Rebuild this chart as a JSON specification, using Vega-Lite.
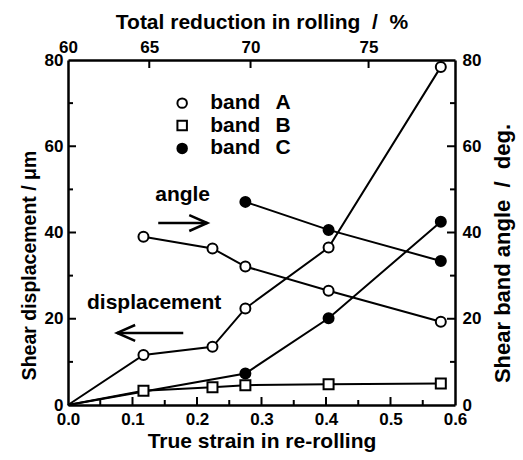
{
  "$schema": "https://vega.github.io/schema/vega-lite/v6.json",
  "width": 387,
  "height": 345,
  "autosize": "none",
  "padding": {"left": 68, "top": 60, "right": 68, "bottom": 55},
  "background": "white",
  "config": {
    "font": "Liberation Sans",
    "view": {"stroke": null},
    "axis": {
      "ticks": false,
      "grid": false,
      "domainColor": "black",
      "domainWidth": 2.5,
      "labelColor": "black",
      "labelFont": "Liberation Sans",
      "labelFontSize": 17,
      "labelFontWeight": "bold",
      "labelOverlap": false,
      "labelBound": false,
      "labelFlush": false,
      "titleColor": "black",
      "titleFont": "Liberation Sans",
      "titleFontSize": 21,
      "titleFontWeight": "bold"
    }
  },
  "datasets": {
    "disp": [
      {"band": "A", "x": 0, "y": 0},
      {"band": "A", "x": 0.117, "y": 11.6},
      {"band": "A", "x": 0.224, "y": 13.5},
      {"band": "A", "x": 0.275, "y": 22.4},
      {"band": "A", "x": 0.404, "y": 36.5},
      {"band": "A", "x": 0.578, "y": 78.4},
      {"band": "B", "x": 0, "y": 0},
      {"band": "B", "x": 0.117, "y": 3.3},
      {"band": "B", "x": 0.224, "y": 4.1},
      {"band": "B", "x": 0.275, "y": 4.6},
      {"band": "B", "x": 0.404, "y": 4.8},
      {"band": "B", "x": 0.578, "y": 5.0},
      {"band": "C", "x": 0, "y": 0},
      {"band": "C", "x": 0.275, "y": 7.3},
      {"band": "C", "x": 0.404, "y": 20.1},
      {"band": "C", "x": 0.578, "y": 42.5}
    ],
    "angle": [
      {"band": "A", "x": 0.117, "y": 39.0},
      {"band": "A", "x": 0.224, "y": 36.3},
      {"band": "A", "x": 0.275, "y": 32.1},
      {"band": "A", "x": 0.404, "y": 26.5},
      {"band": "A", "x": 0.578, "y": 19.3},
      {"band": "C", "x": 0.275, "y": 47.1},
      {"band": "C", "x": 0.404, "y": 40.6},
      {"band": "C", "x": 0.578, "y": 33.4}
    ],
    "legend": [
      {"band": "A", "x": 0.177, "y": 70.0},
      {"band": "B", "x": 0.177, "y": 64.8},
      {"band": "C", "x": 0.177, "y": 59.5}
    ],
    "notes": [
      {"x": 0.2206, "y": 70.0, "t": "band"},
      {"x": 0.3216, "y": 70.0, "t": "A"},
      {"x": 0.2206, "y": 64.8, "t": "band"},
      {"x": 0.3216, "y": 64.8, "t": "B"},
      {"x": 0.2206, "y": 59.5, "t": "band"},
      {"x": 0.3216, "y": 59.5, "t": "C"},
      {"x": 0.1352, "y": 48.7, "t": "angle"},
      {"x": 0.0295, "y": 23.65, "t": "displacement"}
    ],
    "arrows": [
      {"g": "r-shaft", "o": 1, "x": 0.1399, "y": 42.2},
      {"g": "r-shaft", "o": 2, "x": 0.2160, "y": 42.2},
      {"g": "r-head", "o": 1, "x": 0.1880, "y": 44.05},
      {"g": "r-head", "o": 2, "x": 0.2160, "y": 42.2},
      {"g": "r-head", "o": 3, "x": 0.1880, "y": 40.35},
      {"g": "l-shaft", "o": 1, "x": 0.0761, "y": 16.7},
      {"g": "l-shaft", "o": 2, "x": 0.1787, "y": 16.7},
      {"g": "l-head", "o": 1, "x": 0.1041, "y": 18.55},
      {"g": "l-head", "o": 2, "x": 0.0761, "y": 16.7},
      {"g": "l-head", "o": 3, "x": 0.1041, "y": 14.85}
    ],
    "ticks": [
      {"t": "b05", "x": 0.05, "y": 0}, {"t": "b05", "x": 0.05, "y": 1.16},
      {"t": "b10", "x": 0.1, "y": 0}, {"t": "b10", "x": 0.1, "y": 1.85},
      {"t": "b15", "x": 0.15, "y": 0}, {"t": "b15", "x": 0.15, "y": 1.16},
      {"t": "b20", "x": 0.2, "y": 0}, {"t": "b20", "x": 0.2, "y": 1.85},
      {"t": "b25", "x": 0.25, "y": 0}, {"t": "b25", "x": 0.25, "y": 1.16},
      {"t": "b30", "x": 0.3, "y": 0}, {"t": "b30", "x": 0.3, "y": 1.85},
      {"t": "b35", "x": 0.35, "y": 0}, {"t": "b35", "x": 0.35, "y": 1.16},
      {"t": "b40", "x": 0.4, "y": 0}, {"t": "b40", "x": 0.4, "y": 1.85},
      {"t": "b45", "x": 0.45, "y": 0}, {"t": "b45", "x": 0.45, "y": 1.16},
      {"t": "b50", "x": 0.5, "y": 0}, {"t": "b50", "x": 0.5, "y": 1.85},
      {"t": "b55", "x": 0.55, "y": 0}, {"t": "b55", "x": 0.55, "y": 1.16},
      {"t": "t65", "x": 0.126, "y": 80}, {"t": "t65", "x": 0.126, "y": 78.15},
      {"t": "t70", "x": 0.283, "y": 80}, {"t": "t70", "x": 0.283, "y": 78.15},
      {"t": "t75", "x": 0.466, "y": 80}, {"t": "t75", "x": 0.466, "y": 78.15},
      {"t": "l10", "x": 0, "y": 10}, {"t": "l10", "x": 0.0078, "y": 10},
      {"t": "l20", "x": 0, "y": 20}, {"t": "l20", "x": 0.0124, "y": 20},
      {"t": "l30", "x": 0, "y": 30}, {"t": "l30", "x": 0.0078, "y": 30},
      {"t": "l40", "x": 0, "y": 40}, {"t": "l40", "x": 0.0124, "y": 40},
      {"t": "l50", "x": 0, "y": 50}, {"t": "l50", "x": 0.0078, "y": 50},
      {"t": "l60", "x": 0, "y": 60}, {"t": "l60", "x": 0.0124, "y": 60},
      {"t": "l70", "x": 0, "y": 70}, {"t": "l70", "x": 0.0078, "y": 70},
      {"t": "r10", "x": 0.5922, "y": 10}, {"t": "r10", "x": 0.6, "y": 10},
      {"t": "r20", "x": 0.5876, "y": 20}, {"t": "r20", "x": 0.6, "y": 20},
      {"t": "r30", "x": 0.5922, "y": 30}, {"t": "r30", "x": 0.6, "y": 30},
      {"t": "r40", "x": 0.5876, "y": 40}, {"t": "r40", "x": 0.6, "y": 40},
      {"t": "r50", "x": 0.5922, "y": 50}, {"t": "r50", "x": 0.6, "y": 50},
      {"t": "r60", "x": 0.5876, "y": 60}, {"t": "r60", "x": 0.6, "y": 60},
      {"t": "r70", "x": 0.5922, "y": 70}, {"t": "r70", "x": 0.6, "y": 70}
    ]
  },
  "layer": [
    {
      "encoding": {
        "x": {"field": "x", "type": "quantitative", "scale": {"domain": [0, 0.6], "nice": false, "zero": false}, "axis": null},
        "y": {"field": "y", "type": "quantitative", "scale": {"domain": [0, 80], "nice": false, "zero": false}, "axis": null}
      },
      "layer": [
        {
          "data": {"name": "disp"},
          "mark": {"type": "line", "color": "black", "strokeWidth": 2},
          "encoding": {
            "detail": {"field": "band"},
            "x": {
              "field": "x", "type": "quantitative",
              "axis": {
                "orient": "bottom",
                "title": "True strain in re-rolling",
                "values": [0, 0.1, 0.2, 0.3, 0.4, 0.5, 0.6],
                "format": ".1f",
                "labelPadding": 6,
                "titlePadding": 3
              }
            },
            "y": {
              "field": "y", "type": "quantitative",
              "axis": {
                "orient": "left",
                "title": "Shear displacement / μm",
                "values": [0, 20, 40, 60, 80],
                "labelPadding": 5,
                "titlePadding": 5,
                "titleFontSize": 19.5,
                "titleY": 205
              }
            }
          }
        },
        {
          "data": {"name": "ticks"},
          "mark": {"type": "line", "color": "black", "strokeWidth": 2, "strokeCap": "butt"},
          "encoding": {"detail": {"field": "t"}}
        },
        {
          "data": {"name": "disp"},
          "transform": [{"filter": "datum.x > 0"}],
          "mark": {"type": "point", "filled": false, "stroke": "black", "strokeWidth": 2, "opacity": 1, "size": 100},
          "encoding": {
            "shape": {"field": "band", "scale": {"domain": ["A", "B", "C"], "range": ["circle", "square", "circle"]}, "legend": null},
            "fill": {"field": "band", "scale": {"domain": ["A", "B", "C"], "range": ["white", "white", "black"]}, "legend": null}
          }
        },
        {
          "data": {"name": "legend"},
          "mark": {"type": "point", "filled": false, "stroke": "black", "strokeWidth": 2, "opacity": 1, "size": 90},
          "encoding": {
            "shape": {"field": "band", "scale": {"domain": ["A", "B", "C"], "range": ["circle", "square", "circle"]}, "legend": null},
            "fill": {"field": "band", "scale": {"domain": ["A", "B", "C"], "range": ["white", "white", "black"]}, "legend": null}
          }
        },
        {
          "data": {"name": "notes"},
          "mark": {"type": "text", "align": "left", "baseline": "middle", "font": "Liberation Sans", "fontSize": 21, "fontWeight": "bold", "color": "black"},
          "encoding": {"text": {"field": "t"}}
        },
        {
          "data": {"name": "arrows"},
          "mark": {"type": "line", "color": "black", "strokeWidth": 2.5},
          "encoding": {"detail": {"field": "g"}, "order": {"field": "o"}}
        }
      ],
      "resolve": {"axis": {"x": "independent", "y": "independent"}}
    },
    {
      "encoding": {
        "x": {"field": "x", "type": "quantitative", "scale": {"domain": [0, 0.6], "nice": false, "zero": false}, "axis": null},
        "y": {"field": "y", "type": "quantitative", "scale": {"domain": [0, 80], "nice": false, "zero": false}, "axis": null}
      },
      "layer": [
        {
          "data": {"name": "angle"},
          "mark": {"type": "line", "color": "black", "strokeWidth": 2},
          "encoding": {
            "detail": {"field": "band"},
            "x": {
              "field": "x", "type": "quantitative",
              "axis": {
                "orient": "top",
                "title": "Total reduction in rolling\u00a0\u00a0/\u00a0\u00a0%",
                "values": [0, 0.126, 0.283, 0.466],
                "labelExpr": "datum.value < 0.05 ? '60' : datum.value < 0.2 ? '65' : datum.value < 0.35 ? '70' : '75'",
                "labelPadding": 4,
                "titlePadding": 6
              }
            },
            "y": {
              "field": "y", "type": "quantitative",
              "axis": {
                "orient": "right",
                "title": "Shear band angle\u00a0\u00a0/\u00a0\u00a0deg.",
                "titleAngle": -90,
                "titleBaseline": "top",
                "titleFontSize": 22,
                "titleY": 193,
                "values": [0, 20, 40, 60, 80],
                "labelPadding": 7,
                "titlePadding": 12
              }
            }
          }
        },
        {
          "data": {"name": "angle"},
          "mark": {"type": "point", "filled": false, "stroke": "black", "strokeWidth": 2, "opacity": 1, "size": 100},
          "encoding": {
            "shape": {"field": "band", "scale": {"domain": ["A", "B", "C"], "range": ["circle", "square", "circle"]}, "legend": null},
            "fill": {"field": "band", "scale": {"domain": ["A", "B", "C"], "range": ["white", "white", "black"]}, "legend": null}
          }
        }
      ],
      "resolve": {"axis": {"x": "independent", "y": "independent"}}
    }
  ],
  "resolve": {"scale": {"x": "independent", "y": "independent"}}
}
